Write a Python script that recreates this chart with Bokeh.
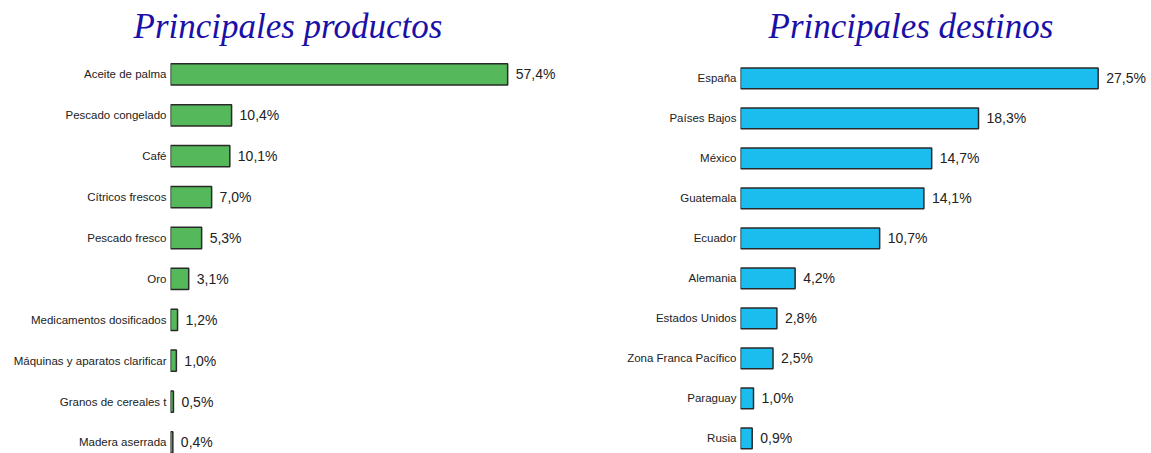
from bokeh.plotting import figure
from bokeh.layouts import row
from bokeh.models import ColumnDataSource, Range1d, FixedTicker, Title
from bokeh.core.properties import value
from bokeh.embed import file_html
from bokeh.resources import INLINE

# ---------------- data ----------------
productos = ["Aceite de palma", "Pescado congelado", "Café", "Cítricos frescos",
             "Pescado fresco", "Oro", "Medicamentos dosificados",
             "Máquinas y aparatos clarificar", "Granos de cereales t", "Madera aserrada"]
productos_pct = [57.4, 10.4, 10.1, 7.0, 5.3, 3.1, 1.2, 1.0, 0.5, 0.4]

destinos = ["España", "Países Bajos", "México", "Guatemala", "Ecuador", "Alemania",
            "Estados Unidos", "Zona Franca Pacífico", "Paraguay", "Rusia"]
destinos_pct = [27.5, 18.3, 14.7, 14.1, 10.7, 4.2, 2.8, 2.5, 1.0, 0.9]

titles = ["Principales productos", "Principales destinos"]


def make_panel(cats, vals, title, color, width, border_left, x_end, y_top, y_bottom, title_offset):
    pos = list(range(len(cats)))
    src = ColumnDataSource(dict(
        y=pos, v=vals,
        lab=[f"{v:.1f}".replace(".", ",") + "%" for v in vals],
    ))
    p = figure(width=width, height=453, output_backend="svg", toolbar_location=None,
               x_range=Range1d(0, x_end), y_range=Range1d(y_bottom, y_top),
               min_border_left=border_left, min_border_right=0,
               min_border_bottom=0, min_border_top=0)
    t = Title(text=title, text_font="Liberation Serif", text_font_style="italic",
              text_font_size="35px", text_color="#1a10a8", align="left",
              offset=title_offset, standoff=8)
    p.add_layout(t, "above")
    p.hbar(y="y", left=0, right="v", height=0.52, source=src,
           fill_color=color, line_color="#2a2a2a", line_width=1.5)
    p.text(x="v", y="y", text="lab", source=src, x_offset=8,
           text_baseline="middle", text_align="left",
           text_font=value("Liberation Sans"), text_font_size="14px",
           text_color="#222222")
    p.xaxis.visible = False
    p.yaxis.ticker = FixedTicker(ticks=pos)
    p.yaxis.major_label_overrides = {i: c for i, c in zip(pos, cats)}
    p.yaxis.axis_line_color = None
    p.yaxis.major_tick_line_color = None
    p.yaxis.minor_tick_line_color = None
    p.yaxis.major_tick_in = 0
    p.yaxis.major_tick_out = 0
    p.yaxis.major_label_standoff = 4
    p.yaxis.major_label_text_font = "Liberation Sans"
    p.yaxis.major_label_text_font_size = "11.5px"
    p.yaxis.major_label_text_color = "#222222"
    p.grid.visible = False
    p.outline_line_color = None
    p.background_fill_color = "white"
    return p


p1 = make_panel(productos, productos_pct, titles[0], "#55b85a", 580, 170, 69.8,
                -0.61, 9.27, -37)
p2 = make_panel(destinos, destinos_pct, titles[1], "#1bbdee", 571, 160, 31.6,
                -0.72, 9.38, 28)

layout = row(p1, p2, spacing=0)
open("out.html", "w").write(file_html(layout, INLINE))
